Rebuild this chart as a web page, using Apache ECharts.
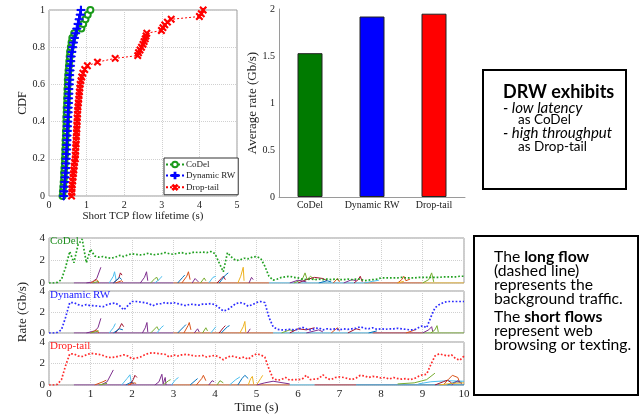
<!DOCTYPE html>
<html>
<head>
<meta charset="utf-8">
<script src="https://cdn.jsdelivr.net/npm/echarts@6/dist/echarts.min.js"></script>
<style>
html, body { margin: 0; padding: 0; background: #fff; }
#chart { width: 640px; height: 415px; }
</style>
</head>
<body>
<div id="chart"></div>
<script>
// --- CDF of short TCP flow lifetime (s) ---
var codelLife = [0.36, 0.37, 0.38, 0.39, 0.40, 0.40, 0.41, 0.42, 0.42, 0.43, 0.43, 0.44, 0.44, 0.45, 0.45, 0.46, 0.46, 0.46, 0.47, 0.47, 0.48,
    0.48, 0.49, 0.49, 0.50, 0.50, 0.51, 0.52, 0.53, 0.54, 0.55, 0.56, 0.58, 0.60, 0.62, 0.67, 0.86, 0.91, 0.97, 1.03, 1.10];
var codelCdf = [0, 0.025, 0.05, 0.075, 0.1, 0.125, 0.15, 0.175, 0.2, 0.225, 0.25, 0.275, 0.3, 0.325, 0.35, 0.375, 0.4, 0.425, 0.45, 0.475, 0.5,
    0.525, 0.55, 0.575, 0.6, 0.625, 0.65, 0.675, 0.7, 0.725, 0.75, 0.775, 0.8, 0.825, 0.85, 0.875, 0.9, 0.925, 0.95, 0.975, 1];
var drwLife = [0.39, 0.40, 0.41, 0.42, 0.43, 0.44, 0.45, 0.45, 0.46, 0.46, 0.47, 0.47, 0.48, 0.48, 0.49, 0.49, 0.50, 0.50, 0.51, 0.51, 0.52,
    0.52, 0.53, 0.53, 0.54, 0.55, 0.55, 0.56, 0.57, 0.58, 0.59, 0.61, 0.63, 0.65, 0.68, 0.71, 0.74, 0.77, 0.80, 0.83, 0.85];
var drwCdf = [0, 0.025, 0.05, 0.075, 0.1, 0.125, 0.15, 0.175, 0.2, 0.225, 0.25, 0.275, 0.3, 0.325, 0.35, 0.375, 0.4, 0.425, 0.45, 0.475, 0.5,
    0.525, 0.55, 0.575, 0.6, 0.625, 0.65, 0.675, 0.7, 0.725, 0.75, 0.775, 0.8, 0.825, 0.85, 0.875, 0.9, 0.925, 0.95, 0.975, 1];
var dropLife = [0.60, 0.61, 0.61, 0.62, 0.63, 0.64, 0.65, 0.66, 0.67, 0.68, 0.70, 0.70, 0.71, 0.71, 0.72, 0.72, 0.73, 0.73, 0.74, 0.74,
    0.75, 0.75, 0.76, 0.76, 0.77, 0.78, 0.79, 0.80, 0.81, 0.82, 0.83, 0.85, 0.87, 0.90, 0.95,
    1.02, 1.29, 1.76, 2.36, 2.38, 2.42, 2.46, 2.50, 2.53, 2.56, 2.58, 2.60, 2.99, 3.03, 3.08, 3.15, 3.25, 4.00, 4.05, 4.10];
var dropCdf = [0, 0.02, 0.04, 0.06, 0.08, 0.1, 0.12, 0.14, 0.16, 0.18, 0.2, 0.22, 0.24, 0.26, 0.28, 0.3, 0.32, 0.34, 0.36, 0.38,
    0.4, 0.42, 0.44, 0.46, 0.48, 0.5, 0.52, 0.54, 0.56, 0.58, 0.6, 0.62, 0.64, 0.66, 0.68,
    0.7, 0.72, 0.74, 0.755, 0.77, 0.785, 0.8, 0.815, 0.83, 0.845, 0.86, 0.875, 0.89, 0.905, 0.92, 0.935, 0.95, 0.965, 0.98, 1];

// --- average rate (Gb/s) ---
var schemes = ["CoDel", "Dynamic RW", "Drop-tail"];
var avgRate = [1.53, 1.92, 1.95];

// --- long flow rate (Gb/s), one sample every 0.1 s from 0 to 10 s ---
var sampleStep = 0.1;
var codelLong = [0, 0, 0.05, 0.3, 1.4, 2.8, 1.8, 3.4, 3.9, 1.8,
    3.0, 2.4, 2.3, 2.35, 2.25, 2.2, 2.3, 2.45, 2.35, 2.5,
    2.6, 2.55, 2.5, 2.55, 2.65, 2.5, 2.55, 2.6, 2.7, 2.6,
    2.55, 2.65, 2.7, 2.6, 2.65, 2.75, 2.7, 2.75, 2.7, 2.8,
    2.6, 1.8, 1.0, 2.7, 2.3, 2.0, 2.05, 2.2, 2.15, 2.3,
    2.35, 2.2, 1.5, 0.6, 0.25, 0.35, 0.5, 0.55, 0.6, 0.5,
    0.45, 0.35, 0.3, 0.35, 0.3, 0.35, 0.3, 0.35, 0.3, 0.35,
    0.3, 0.3, 0.35, 0.3, 0.35, 0.35, 0.2, 0.25, 0.3, 0.35,
    0.45, 0.45, 0.45, 0.45, 0.45, 0.5, 0.45, 0.45, 0.45, 0.5,
    0.5, 0.5, 0.5, 0.5, 0.5, 0.55, 0.55, 0.55, 0.55, 0.6, 0.6];
var drwLong = [0, 0, 0.05, 0.3, 1.5, 2.9, 2.9, 2.7, 2.6, 2.7,
    2.6, 2.6, 2.55, 2.5, 2.7, 2.8, 2.85, 2.6, 2.2, 2.6,
    3.0, 3.0, 2.95, 2.9, 2.8, 2.6, 2.75, 2.8, 2.9, 2.8,
    2.9, 2.8, 2.7, 2.6, 2.75, 2.7, 2.65, 2.75, 2.75, 2.8,
    2.7, 2.4, 2.1, 2.2, 2.5, 2.8, 2.9, 2.8, 2.55, 2.7,
    2.9, 3.0, 2.9, 1.5, 0.6, 0.35, 0.3, 0.3, 0.35, 0.3,
    0.35, 0.55, 0.4, 0.3, 0.4, 0.5, 0.3, 0.4, 0.35, 0.4,
    0.3, 0.4, 0.35, 0.4, 0.45, 0.6, 0.45, 0.4, 0.5, 0.35,
    0.4, 0.35, 0.4, 0.4, 0.45, 0.4, 0.35, 0.3, 0.3, 0.5,
    0.7, 0.5, 1.5, 2.4, 2.7, 2.9, 3.0, 3.0, 3.0, 3.0, 3.0];
var dropLong = [0, 0, 0.05, 0.5, 1.8, 2.9, 2.9, 2.7, 2.65, 2.8,
    2.95, 2.9, 2.85, 2.75, 2.6, 2.55, 2.6, 2.7, 2.8, 2.7,
    2.45, 2.5, 2.6, 2.8, 2.95, 3.0, 2.95, 2.9, 2.85, 2.6,
    2.8, 2.7, 2.8, 2.85, 2.8, 2.7, 2.7, 2.75, 2.6, 2.7,
    2.75, 2.6, 2.35, 2.6, 2.7, 2.6, 2.5, 2.6, 2.4, 2.7,
    2.9, 2.8, 2.6, 1.5, 0.6, 0.45, 0.5, 0.7, 0.45, 0.5,
    0.5, 0.55, 0.9, 0.5, 0.55, 0.6, 0.95, 0.6, 0.5, 0.7,
    0.75, 0.7, 0.6, 0.5, 0.65, 0.9, 0.85, 0.7, 0.8, 0.75,
    0.65, 0.7, 0.55, 0.7, 0.6, 0.55, 0.6, 0.5, 0.6, 0.8,
    0.95, 1.0, 1.9, 2.7, 2.9, 2.8, 2.7, 2.8, 2.45, 2.3, 2.7];

// --- short flows: [colour index, [[t, rate], ...]] ---
var codelShort = [
    [3, [[0.6, 0], [3.0, 0]]], [1, [[3.0, 0], [5.3, 0]]], [5, [[5.3, 0], [7.6, 0]]], [1, [[7.6, 0], [9.0, 0]]], [2, [[9.0, 0], [10, 0]]],
    [3, [[0.9, 0], [1.05, 0.1], [1.15, 0.4], [1.25, 1.4]]], [1, [[1.0, 0], [1.15, 0.3], [1.2, 0]]], [4, [[1.05, 0], [1.2, 0.15]]],
    [5, [[1.45, 0], [1.55, 0.6], [1.58, 1.0], [1.62, 0.2]]], [6, [[1.55, 0], [1.68, 0.4], [1.72, 0.9], [1.76, 0.7]]],
    [0, [[1.55, 0], [1.7, 0.5], [1.75, 0.3]]], [1, [[1.6, 0], [1.75, 0.2], [1.78, 0.1]]],
    [3, [[2.2, 0], [2.3, 0.5], [2.35, 1.0], [2.38, 0.2]]], [4, [[2.45, 0], [2.55, 0.4], [2.6, 0.5], [2.63, 0.2]]],
    [5, [[2.55, 0], [2.68, 0.4], [2.72, 0.6]]], [0, [[3.1, 0], [3.22, 0.5], [3.27, 0.7]]],
    [1, [[3.2, 0], [3.32, 0.6], [3.36, 1.0], [3.4, 0.3]]], [3, [[3.45, 0], [3.52, 0.4], [3.55, 0.5], [3.6, 0.1]]],
    [4, [[3.65, 0], [3.74, 0.45], [3.78, 0.2]]], [5, [[3.85, 0], [3.95, 0.5], [4.02, 0.6]]],
    [6, [[4.05, 0], [4.15, 0.4], [4.2, 0.6], [4.25, 0.3]]], [0, [[4.1, 0], [4.25, 0.7], [4.32, 0.9]]],
    [2, [[4.55, 0], [4.62, 0.6], [4.68, 1.4], [4.7, 0.2]]], [3, [[4.82, 0], [4.88, 0.5], [4.92, 0.3]]],
    [4, [[5.9, 0], [6.1, 0.3], [6.17, 0.9], [6.22, 0.3], [6.3, 0.6], [6.4, 0.3]]],
    [6, [[6.0, 0], [6.2, 0.3], [6.4, 0.5], [6.6, 0.4], [6.7, 0.2]]], [3, [[5.8, 0], [6.0, 0.25], [6.2, 0.1]]],
    [0, [[6.5, 0], [6.7, 0.2], [6.8, 0.1]]], [1, [[6.85, 0], [6.95, 0.4], [7.0, 0.1]]], [3, [[7.1, 0], [7.3, 0.3], [7.4, 0.2]]],
    [6, [[7.35, 0], [7.45, 0.3], [7.5, 0.6], [7.55, 0.1]]], [5, [[7.6, 0], [7.8, 0.15], [7.95, 0.25]]],
    [1, [[8.4, 0], [8.5, 0.3], [8.55, 0.6], [8.6, 0.2], [8.7, 0.35]]], [2, [[8.4, 0], [8.55, 0.15]]],
    [4, [[9.0, 0], [9.15, 0.3], [9.22, 0.9], [9.27, 0.1]]]
];
var drwShort = [
    [3, [[0.6, 0], [3.0, 0]]], [1, [[3.0, 0], [5.4, 0]]], [5, [[5.4, 0], [7.8, 0]]], [6, [[7.8, 0], [9.0, 0]]], [4, [[9.0, 0], [10, 0]]],
    [3, [[0.9, 0], [1.1, 0.2], [1.18, 0.5], [1.25, 1.4]]], [1, [[1.0, 0], [1.15, 0.3], [1.2, 0]]], [4, [[1.0, 0], [1.2, 0.2]]],
    [5, [[1.45, 0], [1.55, 0.5], [1.6, 0.9]]], [6, [[1.6, 0], [1.7, 0.5], [1.75, 0.9], [1.8, 0.6]]],
    [0, [[1.55, 0], [1.7, 0.4], [1.78, 0.3]]], [3, [[2.25, 0], [2.32, 0.5], [2.36, 1.0], [2.38, 0.1]]],
    [4, [[2.45, 0], [2.6, 0.6], [2.64, 0.3]]], [5, [[2.6, 0], [2.7, 0.5], [2.76, 0.7]]],
    [0, [[3.1, 0], [3.25, 0.6], [3.3, 0.8]]], [1, [[3.25, 0], [3.35, 0.7], [3.38, 1.0], [3.42, 0.3]]],
    [3, [[3.5, 0], [3.58, 0.4], [3.62, 0.1]]], [4, [[3.7, 0], [3.78, 0.5], [3.82, 0.2]]], [5, [[3.9, 0], [4.02, 0.6]]],
    [6, [[4.1, 0], [4.2, 0.5], [4.25, 0.7]]], [0, [[4.15, 0], [4.3, 0.6], [4.35, 0.7]]],
    [2, [[4.6, 0], [4.68, 0.6], [4.72, 1.1], [4.74, 0.1]]], [3, [[4.78, 0], [4.85, 0.4]]],
    [4, [[5.6, 0], [5.8, 0.3], [5.9, 0.2]]], [6, [[5.8, 0], [6.0, 0.4], [6.2, 0.3], [6.4, 0.5]]],
    [3, [[6.2, 0], [6.5, 0.3], [6.6, 0.1]]], [1, [[6.8, 0], [6.95, 0.5], [7.0, 0.2]]], [6, [[7.2, 0], [7.4, 0.4], [7.5, 0.3]]],
    [0, [[7.7, 0], [7.9, 0.2]]], [1, [[8.6, 0], [8.75, 0.2], [8.85, 0.35]]],
    [3, [[9.0, 0], [9.15, 0.3], [9.22, 0.6], [9.25, 0.1]]], [4, [[9.2, 0], [9.3, 0.3], [9.35, 0.7], [9.38, 0.1]]]
];
var dropShort = [
    [3, [[0.6, 0], [3.0, 0]]], [1, [[3.0, 0], [5.8, 0]]], [5, [[5.8, 0], [6.4, 0]]], [6, [[6.4, 0], [7.4, 0]]], [0, [[7.4, 0], [10, 0]]],
    [1, [[1.1, 0], [1.3, 0.3], [1.38, 0.45]]], [3, [[1.25, 0], [1.4, 0.3], [1.55, 1.4]]], [4, [[1.2, 0], [1.4, 0.15]]],
    [5, [[1.75, 0], [1.88, 0.6], [1.95, 0.95], [1.98, 0.3]]], [0, [[1.85, 0], [2.0, 0.3], [2.05, 0.1]]],
    [6, [[1.95, 0], [2.03, 0.5], [2.07, 0.9], [2.12, 0.7]]], [1, [[1.9, 0], [2.05, 0.2], [2.1, 0.15]]],
    [3, [[2.55, 0], [2.65, 0.3], [2.72, 1.0], [2.75, 0.1], [2.8, 0.7], [2.82, 0]]],
    [4, [[2.75, 0], [2.88, 0.4], [2.93, 0.5]]], [5, [[2.95, 0], [3.05, 0.5], [3.12, 0.7]]],
    [0, [[3.4, 0], [3.52, 0.4], [3.58, 0.6]]], [1, [[3.55, 0], [3.68, 0.6], [3.72, 0.9], [3.78, 0.4]]],
    [3, [[3.85, 0], [3.93, 0.4], [3.98, 0.3]]], [4, [[4.05, 0], [4.12, 0.4], [4.15, 0.5], [4.2, 0.2]]],
    [5, [[4.35, 0], [4.5, 0.5], [4.6, 0.75]]], [0, [[4.55, 0], [4.65, 0.6], [4.72, 0.9], [4.8, 0.6]]],
    [2, [[4.8, 0], [4.86, 0.6], [4.9, 0.8], [4.93, 0.1]]], [2, [[5.0, 0], [5.1, 0.6], [5.15, 0.9]]],
    [3, [[5.0, 0], [5.2, 0.2], [5.4, 0.35], [5.8, 0.1]]],
    [4, [[8.4, 0.1], [8.8, 0.2], [9.1, 0.5], [9.3, 1.1]]], [5, [[8.9, 0.1], [9.2, 0.3], [9.6, 0.4], [10, 0.35]]],
    [6, [[9.3, 0], [9.5, 0.3], [9.6, 0.45], [9.7, 0.2]]], [1, [[9.5, 0], [9.62, 0.5], [9.72, 0.9], [9.85, 0.7], [9.9, 0.2]]],
    [0, [[9.6, 0], [9.8, 0.3], [9.95, 0.25]]], [3, [[9.7, 0], [9.85, 0.4], [9.95, 0.1]]], [2, [[9.4, 0], [9.7, 0.15], [10, 0.2]]]
];

var flowColors = ["#0072BD", "#D95319", "#EDB120", "#7E2F8E", "#77AC30", "#4DBEEE", "#A2142F"];
var serif = "Liberation Serif";
var boxGray = "#9a9a9a";
var gridDot = {show: true, lineStyle: {color: "#d0d0d0", type: "dotted", width: 1}};
var plusPath = "path://M4.3,0H5.7V10H4.3ZM0,4.3H10V5.7H0Z";

function pairs(xs, ys) {
    return xs.map(function (x, i) { return [x, ys[i]]; });
}
function sampled(vals) {
    return vals.map(function (v, i) { return [i * sampleStep, v]; });
}

function cdfSeries(name, xs, ys, color, symbol, size, rotate) {
    return {
        name: name, type: "line", xAxisIndex: 0, yAxisIndex: 0,
        data: pairs(xs, ys),
        symbol: symbol, symbolSize: size, symbolRotate: rotate || 0, showSymbol: true,
        lineStyle: {color: color, width: 1, type: [2, 2]},
        itemStyle: {color: color, borderColor: color, borderWidth: 1}
    };
}

function panelSeries(idx, longVals, longColor, shorts) {
    var list = shorts.map(function (f) {
        return {
            type: "line", xAxisIndex: idx, yAxisIndex: idx, data: f[1], symbol: "none", z: 2,
            lineStyle: {color: flowColors[f[0]], width: 1}
        };
    });
    list.push({
        type: "line", xAxisIndex: idx, yAxisIndex: idx, data: sampled(longVals), symbol: "none", z: 3,
        lineStyle: {color: longColor, width: 1.7, type: [1.7, 1.9]}
    });
    return list;
}

function panelX(idx, showLabels) {
    return {
        type: "value", gridIndex: idx, min: 0, max: 10, interval: 1,
        axisLine: {show: false}, axisTick: {show: false}, splitLine: gridDot,
        axisLabel: {show: showLabels, fontFamily: serif, fontSize: 11, color: "#222", margin: 4},
        name: showLabels ? "Time (s)" : "", nameLocation: "middle", nameGap: 16,
        nameTextStyle: {fontFamily: serif, fontSize: 13, color: "#222"}
    };
}
function panelY(idx, name) {
    return {
        type: "value", gridIndex: idx, min: 0, max: 4, interval: 2,
        axisLine: {show: false}, axisTick: {show: false}, splitLine: gridDot,
        axisLabel: {fontFamily: serif, fontSize: 11, color: "#222", margin: 4},
        name: name, nameLocation: "middle", nameGap: 13, nameRotate: 90,
        nameTextStyle: {fontFamily: serif, fontSize: 13, color: "#222"}
    };
}

var boxFont = "Lato";
var option = {
    animation: false,
    title: [
        {text: "CoDel", left: 50, top: 236, textStyle: {fontFamily: serif, fontSize: 11, fontWeight: "normal", color: "#1f8f1f"}, padding: 0},
        {text: "Dynamic RW", left: 50, top: 290, textStyle: {fontFamily: serif, fontSize: 11, fontWeight: "normal", color: "#2020ff"}, padding: 0},
        {text: "Drop-tail", left: 50, top: 341, textStyle: {fontFamily: serif, fontSize: 11, fontWeight: "normal", color: "#ff2020"}, padding: 0}
    ],
    legend: {
        data: ["CoDel", "Dynamic RW", "Drop-tail"],
        orient: "vertical", left: 164, top: 158, itemGap: 2, itemWidth: 18, itemHeight: 7,
        padding: [2, 3, 2, 1], borderColor: "#333", borderWidth: 1, backgroundColor: "#fff",
        textStyle: {fontFamily: serif, fontSize: 9, color: "#222", padding: [0, 0, 0, -3]}
    },
    grid: [
        {left: 49, top: 10, width: 188, height: 186, show: true, borderColor: boxGray, borderWidth: 1, backgroundColor: "transparent"},
        {left: 279, top: 9, width: 186, height: 188},
        {left: 49, top: 238, width: 415, height: 45, show: true, borderColor: boxGray, borderWidth: 1, backgroundColor: "transparent"},
        {left: 49, top: 291, width: 415, height: 42, show: true, borderColor: boxGray, borderWidth: 1, backgroundColor: "transparent"},
        {left: 49, top: 342, width: 415, height: 45, show: true, borderColor: boxGray, borderWidth: 1, backgroundColor: "transparent"}
    ],
    xAxis: [
        {
            type: "value", gridIndex: 0, min: 0, max: 5, interval: 1,
            axisLine: {show: false}, axisTick: {show: false}, splitLine: gridDot,
            axisLabel: {fontFamily: serif, fontSize: 10, color: "#222", margin: 4},
            name: "Short TCP flow lifetime (s)", nameLocation: "middle", nameGap: 14,
            nameTextStyle: {fontFamily: serif, fontSize: 11, color: "#222"}
        },
        {
            type: "category", gridIndex: 1, data: schemes,
            axisLine: {show: true, lineStyle: {color: boxGray}}, axisTick: {show: false},
            axisLabel: {interval: 0, fontFamily: serif, fontSize: 10, color: "#222", margin: 3}
        },
        panelX(2, false), panelX(3, false), panelX(4, true)
    ],
    yAxis: [
        {
            type: "value", gridIndex: 0, min: 0, max: 1, interval: 0.2,
            axisLine: {show: false}, axisTick: {show: false}, splitLine: gridDot,
            axisLabel: {fontFamily: serif, fontSize: 10, color: "#222", margin: 4},
            name: "CDF", nameLocation: "middle", nameGap: 20, nameRotate: 90,
            nameTextStyle: {fontFamily: serif, fontSize: 12, color: "#222"}
        },
        {
            type: "value", gridIndex: 1, min: 0, max: 2, interval: 0.5,
            axisLine: {show: true, lineStyle: {color: boxGray}}, axisTick: {show: false}, splitLine: {show: false},
            axisLabel: {fontFamily: serif, fontSize: 10, color: "#222", margin: 4},
            name: "Average rate (Gb/s)", nameLocation: "middle", nameGap: 16, nameRotate: 90,
            nameTextStyle: {fontFamily: serif, fontSize: 13, color: "#222"}
        },
        panelY(2, ""), panelY(3, "Rate (Gb/s)"), panelY(4, "")
    ],
    series: [
        cdfSeries("CoDel", codelLife, codelCdf, "#1a9a1a", "emptyCircle", 6),
        cdfSeries("Dynamic RW", drwLife, drwCdf, "#0000ff", plusPath, 8),
        cdfSeries("Drop-tail", dropLife, dropCdf, "#ff0000", plusPath, 8, 45),
        {
            type: "bar", xAxisIndex: 1, yAxisIndex: 1, barWidth: 25,
            data: [
                {value: avgRate[0], itemStyle: {color: "#007a00"}},
                {value: avgRate[1], itemStyle: {color: "#0000ff"}},
                {value: avgRate[2], itemStyle: {color: "#ff0000"}}
            ],
            itemStyle: {borderColor: "#222", borderWidth: 1}
        }
    ].concat(panelSeries(2, codelLong, "#20a020", codelShort))
     .concat(panelSeries(3, drwLong, "#2a2aff", drwShort))
     .concat(panelSeries(4, dropLong, "#ff2a2a", dropShort)),
    graphic: [
        {type: "rect", shape: {x: 483, y: 70, width: 143, height: 119}, style: {fill: "#fff", stroke: "#000", lineWidth: 2}},
        {type: "text", x: 503, y: 92, style: {text: "DRW exhibits", font: "bold 18px " + boxFont, fill: "#000", verticalAlign: "middle"}},
        {type: "text", x: 503, y: 108, style: {text: "- low latency", font: "italic 15px " + boxFont, fill: "#000", verticalAlign: "middle"}},
        {type: "text", x: 518, y: 120, style: {text: "as CoDel", font: "13.5px " + boxFont, fill: "#000", verticalAlign: "middle"}},
        {type: "text", x: 503, y: 133, style: {text: "- high throughput", font: "italic 15px " + boxFont, fill: "#000", verticalAlign: "middle"}},
        {type: "text", x: 518, y: 147, style: {text: "as Drop-tail", font: "13.5px " + boxFont, fill: "#000", verticalAlign: "middle"}},

        {type: "rect", shape: {x: 474, y: 236, width: 164, height: 159}, style: {fill: "#fff", stroke: "#000", lineWidth: 2}},
        {type: "text", x: 494, y: 257, style: {text: "The {b|long flow}", font: "15.7px " + boxFont, fill: "#000", verticalAlign: "middle",
            rich: {b: {fontFamily: boxFont, fontSize: 15.7, fontWeight: "bold"}}}},
        {type: "text", x: 494, y: 271, style: {text: "(dashed line)", font: "15.7px " + boxFont, fill: "#000", verticalAlign: "middle"}},
        {type: "text", x: 494, y: 285, style: {text: "represents the", font: "15.7px " + boxFont, fill: "#000", verticalAlign: "middle"}},
        {type: "text", x: 494, y: 299, style: {text: "background traffic.", font: "15.7px " + boxFont, fill: "#000", verticalAlign: "middle"}},
        {type: "text", x: 494, y: 317, style: {text: "The {b|short flows}", font: "15.7px " + boxFont, fill: "#000", verticalAlign: "middle",
            rich: {b: {fontFamily: boxFont, fontSize: 15.7, fontWeight: "bold"}}}},
        {type: "text", x: 494, y: 331, style: {text: "represent web", font: "15.7px " + boxFont, fill: "#000", verticalAlign: "middle"}},
        {type: "text", x: 494, y: 345, style: {text: "browsing or texting.", font: "15.7px " + boxFont, fill: "#000", verticalAlign: "middle"}}
    ]
};

var chart = echarts.init(document.getElementById("chart"));
chart.setOption(option);
</script>
</body>
</html>
